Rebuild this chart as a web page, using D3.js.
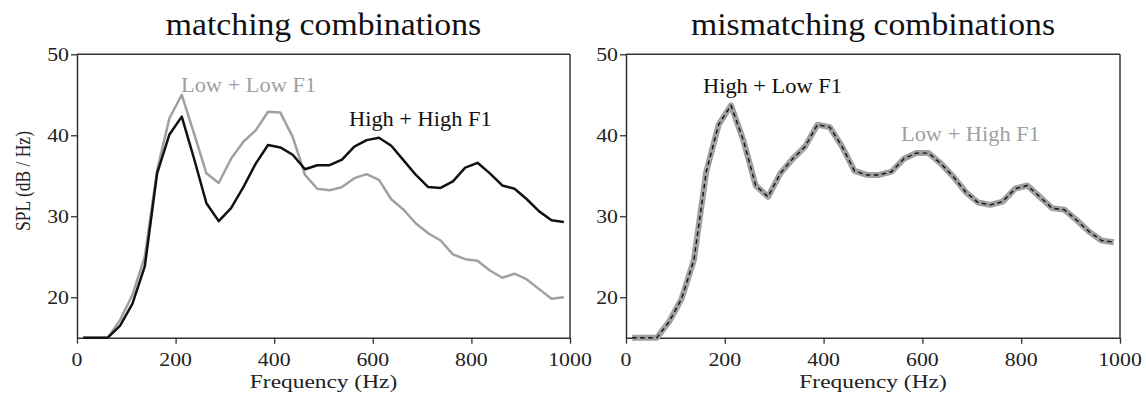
<!DOCTYPE html>
<html>
<head>
<meta charset="utf-8">
<script src="https://cdn.jsdelivr.net/npm/d3@7"></script>
<style>
  html, body { margin: 0; padding: 0; background: #fff; }
  svg text { font-family: "Liberation Serif", "Times New Roman", serif; }
</style>
</head>
<body>
<svg id="chart" width="1146" height="400"></svg>
<script>
// ---- data ----
const frequencies = [12.5, 37.5, 62.5, 87.5, 112.5, 137.5, 162.5, 187.5, 212.5, 237.5,
  262.5, 287.5, 312.5, 337.5, 362.5, 387.5, 412.5, 437.5, 462.5, 487.5,
  512.5, 537.5, 562.5, 587.5, 612.5, 637.5, 662.5, 687.5, 712.5, 737.5,
  762.5, 787.5, 812.5, 837.5, 862.5, 887.5, 912.5, 937.5, 962.5, 987.5];

const lowLowF1 = [15, 15, 15, 17.2, 20.3, 25.0, 35.7, 42.1, 45.0, 40.2,
  35.3, 34.1, 37.1, 39.2, 40.6, 42.9, 42.8, 39.8, 35.1, 33.4,
  33.2, 33.6, 34.7, 35.2, 34.5, 32.1, 30.8, 29.1, 27.9, 27.0,
  25.3, 24.7, 24.5, 23.3, 22.4, 22.9, 22.2, 21.0, 19.8, 20.0];

const highHighF1 = [15, 15, 15, 16.5, 19.2, 23.8, 35.3, 40.1, 42.3, 37.1,
  31.6, 29.4, 31.0, 33.6, 36.5, 38.8, 38.5, 37.6, 35.8, 36.3,
  36.3, 37.0, 38.6, 39.4, 39.7, 38.7, 36.9, 35.1, 33.6, 33.5,
  34.3, 36.0, 36.6, 35.3, 33.8, 33.4, 32.1, 30.6, 29.5, 29.3];

const lowHighF1 = [15, 15, 15, 17.0, 19.8, 24.6, 35.5, 41.3, 43.7, 39.4,
  33.8, 32.4, 35.3, 37.1, 38.6, 41.3, 41.0, 38.6, 35.6, 35.1,
  35.1, 35.5, 37.1, 37.8, 37.8, 36.5, 34.9, 33.0, 31.7, 31.4,
  31.8, 33.4, 33.8, 32.4, 31.0, 30.8, 29.5, 28.1, 27.0, 26.8];

const highLowF1 = [15, 15, 15, 17.0, 19.8, 24.6, 35.5, 41.3, 43.7, 39.4,
  33.8, 32.4, 35.3, 37.1, 38.6, 41.3, 41.0, 38.6, 35.6, 35.1,
  35.1, 35.5, 37.1, 37.8, 37.8, 36.5, 34.9, 33.0, 31.7, 31.4,
  31.8, 33.4, 33.8, 32.4, 31.0, 30.8, 29.5, 28.1, 27.0, 26.8];

const xTicks = [0, 200, 400, 600, 800, 1000];
const yTicks = [20, 30, 40, 50];
const panelTitles = ["matching combinations", "mismatching combinations"];
const xLabel = "Frequency (Hz)";
const yLabel = "SPL (dB / Hz)";
const seriesLabels = ["Low + Low F1", "High + High F1", "High + Low F1", "Low + High F1"];

// ---- drawing ----
const svg = d3.select("#chart");
const GRAY = "#a0a0a0";
const BLACK = "#111";
const AXIS = "#333";
const SX = 1.18; // horizontal text stretch seen in reference

const panels = [
  { left: 77, right: 570, title: panelTitles[0], yLabel: true },
  { left: 626, right: 1120, title: panelTitles[1], yLabel: false }
];
const plotTop = 54.3, plotBottom = 337.7;

function stretchedText(g, x, y, txt, size, anchor, color, sx) {
  return g.append("text")
    .attr("transform", `translate(${x},${y}) scale(${sx},1)`)
    .attr("text-anchor", anchor)
    .attr("font-size", size)
    .attr("fill", color)
    .text(txt);
}

panels.forEach((p, i) => {
  const x = d3.scaleLinear().domain([0, 1000]).range([p.left, p.right]);
  const y = d3.scaleLinear().domain([15, 50]).range([plotBottom, plotTop]);
  p.x = x; p.y = y;
  const g = svg.append("g");

  // box top & right
  g.append("line").attr("x1", x(0)).attr("x2", x(1000)).attr("y1", y(50)).attr("y2", y(50))
    .attr("stroke", AXIS).attr("stroke-width", 1.5);
  g.append("line").attr("x1", x(1000)).attr("x2", x(1000)).attr("y1", y(50)).attr("y2", y(15))
    .attr("stroke", AXIS).attr("stroke-width", 1.5);

  // axes
  const xa = g.append("g").attr("transform", `translate(0,${plotBottom})`)
    .call(d3.axisBottom(x).tickValues(xTicks).tickSize(6).tickSizeOuter(0).tickFormat(""));
  const ya = g.append("g").attr("transform", `translate(${p.left},0)`)
    .call(d3.axisLeft(y).tickValues(yTicks).tickSize(6).tickSizeOuter(0).tickFormat(""));
  [xa, ya].forEach(a => {
    a.select(".domain").attr("stroke", AXIS).attr("stroke-width", 1.5);
    a.selectAll(".tick line").attr("stroke", AXIS).attr("stroke-width", 1.3);
  });
  xTicks.forEach(t => stretchedText(g, x(t), 365.8, String(t), 18.5, "middle", "#222", SX));
  yTicks.forEach(t => stretchedText(g, p.left - 8, y(t) + 6.3, String(t), 18.5, "end", "#222", SX));

  // titles and labels
  stretchedText(g, (x(0) + x(1000)) / 2, 35, p.title, 31.5, "middle", "#111", 1.07);
  stretchedText(g, (x(0) + x(1000)) / 2, 387.5, xLabel, 19.5, "middle", "#222", 1.2);
  if (p.yLabel) {
    g.append("text")
      .attr("transform", `translate(30,181) rotate(-90) scale(1,${SX})`)
      .attr("text-anchor", "middle").attr("font-size", 17.5).attr("fill", "#222")
      .text(yLabel);
  }
});

const line = (p) => d3.line().x(d => p.x(d[0])).y(d => p.y(d[1]));
const pts = (vals) => frequencies.map((f, k) => [f, vals[k]]);

// left panel
const L = panels[0];
svg.append("path").attr("d", line(L)(pts(lowLowF1))).attr("fill", "none")
  .attr("stroke", GRAY).attr("stroke-width", 2.5).attr("stroke-linejoin", "round");
svg.append("path").attr("d", line(L)(pts(highHighF1))).attr("fill", "none")
  .attr("stroke", BLACK).attr("stroke-width", 2.5).attr("stroke-linejoin", "round");
stretchedText(svg, 181, 92, seriesLabels[0], 20, "start", GRAY, 1.12);
stretchedText(svg, 349, 126, seriesLabels[1], 20, "start", BLACK, 1.12);

// right panel
const R = panels[1];
svg.append("path").attr("d", line(R)(pts(lowHighF1))).attr("fill", "none")
  .attr("stroke", GRAY).attr("stroke-width", 6).attr("stroke-linejoin", "round");
svg.append("path").attr("d", line(R)(pts(highLowF1))).attr("fill", "none")
  .attr("stroke", BLACK).attr("stroke-width", 1.4).attr("stroke-dasharray", "4.5,3.5")
  .attr("stroke-linejoin", "round");
stretchedText(svg, 703, 93, seriesLabels[2], 20, "start", BLACK, 1.12);
stretchedText(svg, 901, 141, seriesLabels[3], 20, "start", GRAY, 1.12);
</script>
</body>
</html>
